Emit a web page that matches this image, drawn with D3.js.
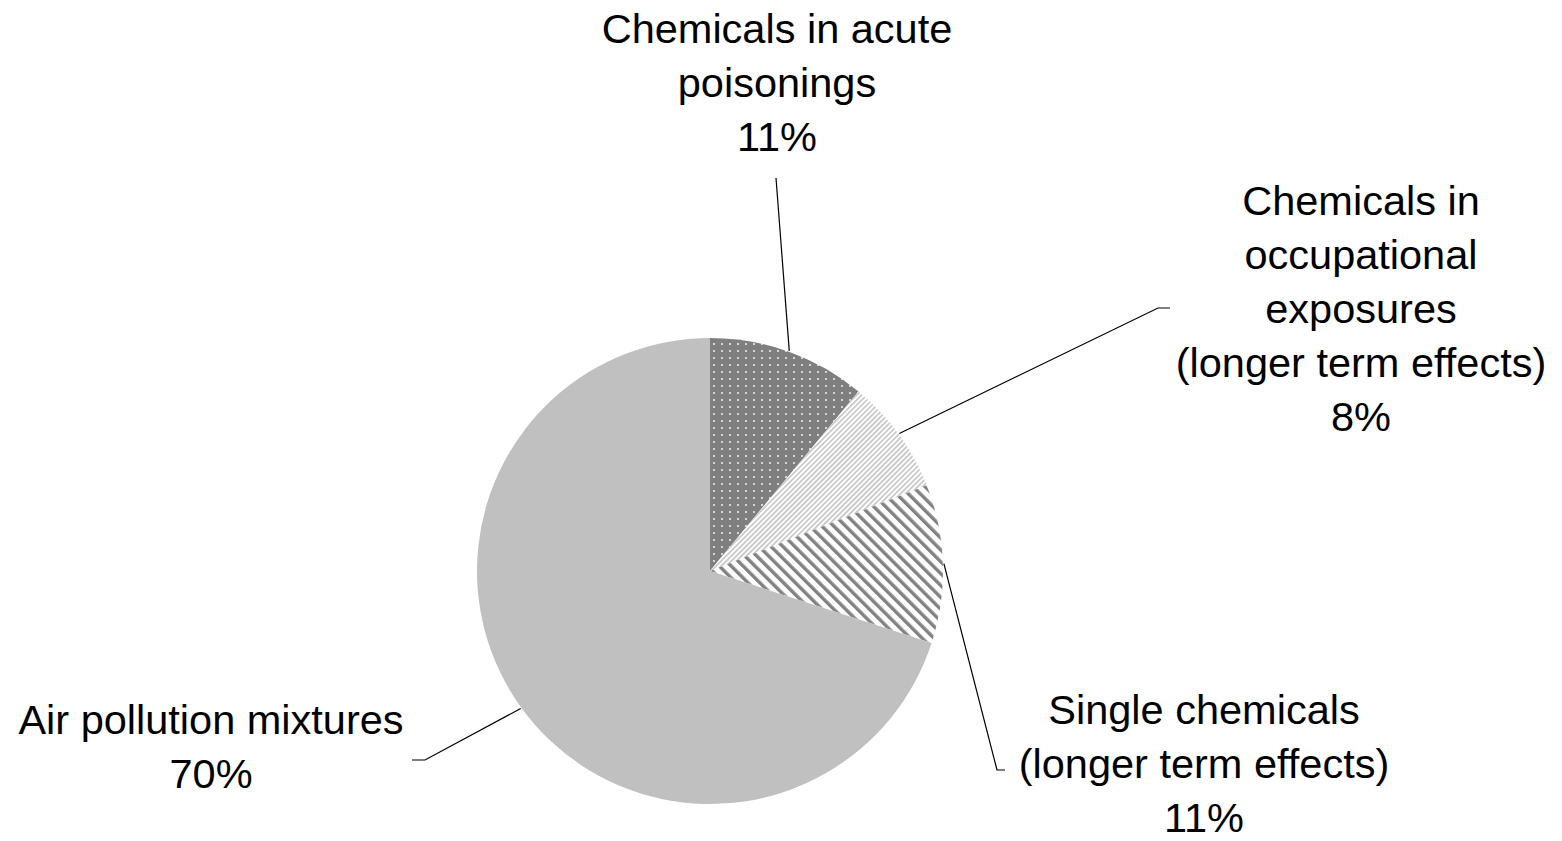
<!DOCTYPE html>
<html>
<head>
<meta charset="utf-8">
<script src="https://cdn.jsdelivr.net/npm/d3@7"></script>
<style>
  html, body { margin: 0; padding: 0; background: #fff; }
  svg { display: block; }
  .label { font-family: "Liberation Sans", Arial, sans-serif; font-size: 41.5px; fill: #000; }
  .leader { fill: none; stroke: #000; stroke-width: 1.2; }
</style>
</head>
<body>
<div id="chart"></div>
<script>
// data
const categories = [
  'Chemicals in acute poisonings',
  'Chemicals in occupational exposures (longer term effects)',
  'Single chemicals (longer term effects)',
  'Air pollution mixtures'
]
const values = [11, 8, 11, 70]
const labelLines = [
  ['Chemicals in acute', 'poisonings'],
  ['Chemicals in', 'occupational', 'exposures', '(longer term effects)'],
  ['Single chemicals', '(longer term effects)'],
  ['Air pollution mixtures']
]

const width = 1562
const height = 841
const cx = 710, cy = 571, radius = 233
const lineH = 54

// label placement (x = text centre, y = first baseline, leader = end of the leader line)
const labelPos = [
  { x: 777, y: 43, leader: [[776, 178]] },
  { x: 1361, y: 215, leader: [[1158, 308], [1170, 308]] },
  { x: 1204, y: 724, leader: [[997, 770], [1005, 770]] },
  { x: 211, y: 734, leader: [[425, 760], [412, 760]] }
]

const svg = d3.select('#chart').append('svg')
  .attr('width', width)
  .attr('height', height)

// fill patterns
const defs = svg.append('defs')

const dots = defs.append('pattern')
  .attr('id', 'dots')
  .attr('patternUnits', 'userSpaceOnUse')
  .attr('width', 8).attr('height', 7)
dots.append('rect').attr('width', 8).attr('height', 7).attr('fill', '#7f7f7f')
dots.append('rect').attr('x', 3).attr('y', 3).attr('width', 2).attr('height', 2).attr('fill', '#d4d4d4')

const thin = defs.append('pattern')
  .attr('id', 'thin-stripes')
  .attr('patternUnits', 'userSpaceOnUse')
  .attr('width', 3.6).attr('height', 10)
  .attr('patternTransform', 'rotate(45)')
thin.append('rect').attr('width', 3.6).attr('height', 10).attr('fill', '#fff')
thin.append('rect').attr('width', 1.6).attr('height', 10).attr('fill', '#c4c4c4')

const wide = defs.append('pattern')
  .attr('id', 'wide-stripes')
  .attr('patternUnits', 'userSpaceOnUse')
  .attr('width', 8.4).attr('height', 10)
  .attr('patternTransform', 'rotate(-45)')
wide.append('rect').attr('width', 8.4).attr('height', 10).attr('fill', '#fff')
wide.append('rect').attr('width', 3.4).attr('height', 10).attr('fill', '#828282')

const fills = ['url(#dots)', 'url(#thin-stripes)', 'url(#wide-stripes)', '#c0c0c0']

const pie = d3.pie().sort(null).value(d => d)
const arcs = pie(values)
const arc = d3.arc().innerRadius(0).outerRadius(radius)
const edge = d3.arc().innerRadius(radius + 1).outerRadius(radius + 1)

const g = svg.append('g').attr('transform', `translate(${cx},${cy})`)

g.selectAll('path.slice')
  .data(arcs)
  .join('path')
  .attr('class', 'slice')
  .attr('d', arc)
  .attr('fill', (d, i) => fills[i])

// leader lines
const line = d3.line()
svg.selectAll('path.leader')
  .data(arcs)
  .join('path')
  .attr('class', 'leader')
  .attr('d', (d, i) => {
    const [x, y] = edge.centroid(d)
    return line([[cx + x, cy + y], ...labelPos[i].leader])
  })

// labels
const total = d3.sum(values)
const labels = svg.selectAll('text.label')
  .data(arcs)
  .join('text')
  .attr('class', 'label')
  .attr('text-anchor', 'middle')

labels.each(function (d, i) {
  const lines = [...labelLines[i], d3.format('.0%')(d.value / total)]
  d3.select(this).selectAll('tspan')
    .data(lines)
    .join('tspan')
    .attr('x', labelPos[i].x)
    .attr('y', (t, k) => labelPos[i].y + k * lineH)
    .text(t => t)
})
</script>
</body>
</html>
